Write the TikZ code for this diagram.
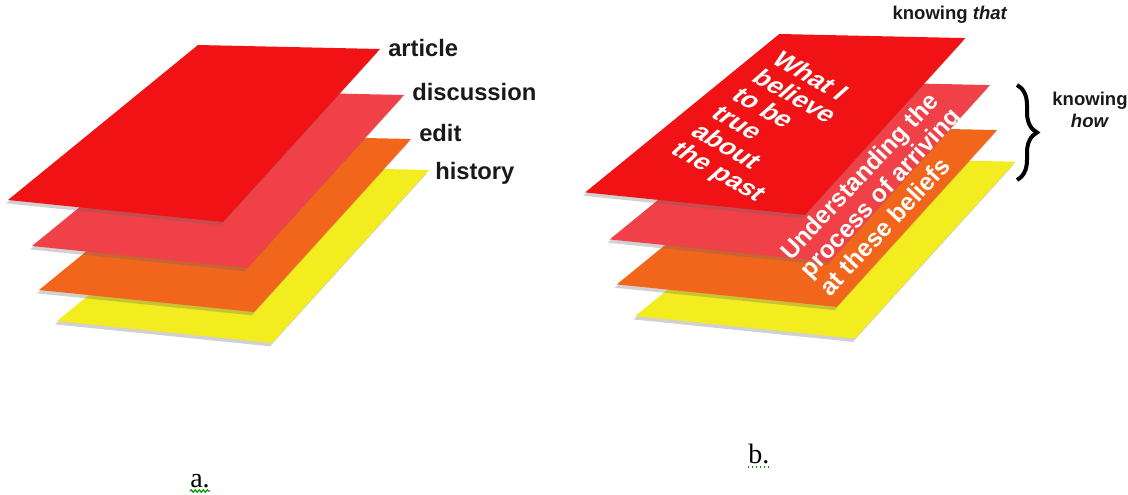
\documentclass[tikz,border=0pt]{standalone}
\usepackage{fontspec}
\setmainfont{Liberation Serif}
\newfontfamily\labelfont{Liberation Sans}
\usepackage{tikz}
\usetikzlibrary{shadows,decorations.pathreplacing,decorations.pathmorphing}

\definecolor{sheetred}{RGB}{240,18,20}
\definecolor{sheetpink}{RGB}{240,64,72}
\definecolor{sheetorange}{RGB}{242,102,28}
\definecolor{sheetyellow}{RGB}{243,236,30}

\begin{document}
\begin{tikzpicture}[
    x=0.75pt,y=-0.75pt,
    sheet/.style={draw=none,drop shadow={shadow xshift=-1.5pt,shadow yshift=-2.5pt,opacity=.3,fill=black!60}},
    layer/.style={font=\labelfont\bfseries\fontsize{17.8}{20}\selectfont,text=black!90,anchor=west,inner sep=0pt},
    know/.style={font=\labelfont\bfseries\fontsize{13.9}{17}\selectfont,text=black!90,inner sep=0pt,align=center},
    ontext/.style={font=\labelfont\bfseries\fontsize{19.5}{20.3}\selectfont,text=white,inner sep=0pt,align=left,transform shape},
    caption/.style={font=\fontsize{21}{24}\selectfont,inner sep=0pt,anchor=base west},
    spell/.style={draw=green!60!black,line width=1pt}
  ]
  \useasboundingbox (0,0) rectangle (1128,494);
  % the two stacks of sheets, a. and b.
  \foreach \dx/\dy/\sc in {0/0/1,577/-12/1.022}
    \foreach \col/\ox/\oy in {sheetyellow/49/121,sheetorange/31/90,sheetpink/24/46,sheetred/0/0}
      \fill[sheet,fill=\col,shift={(\dx,\dy)},scale=\sc,shift={(\ox,\oy)}]
        (198,45) -- (380,49) -- (223,222) -- (8,200) -- cycle;

  \node[layer] (article) at (388,48) {article};
  \node[layer] (discussion) at (412,92) {discussion};
  \node[layer] (edit) at (419,133) {edit};
  \node[layer] (history) at (435,173) {history};

  % base west sits on the last line
  \node[ontext,cm={0.866,-0.5,0.746,0.665,(0,0)},anchor=base west] (believe) at (669,152)
    {What I\\believe\\to be\\true\\about\\the past};
  \node[ontext,font=\labelfont\bfseries\fontsize{18.5}{20}\selectfont,rotate=47,anchor=base west] (arriving) at (830,298)
    {Understanding the\\process of arriving\\at these beliefs};

  \node[know] (knowthat) at (950,15) {knowing \textit{that}};
  \node[know] (knowhow) at (1090,110) {knowing\\\textit{how}};
  \coordinate (bracetop) at (1017,85);
  \coordinate (bracebot) at (1017,180);
  \draw[decorate,decoration={brace,amplitude=15pt},line width=3pt] (bracetop) -- (bracebot);

  \node[caption] (capa) at (190,487) {a.};
  \node[caption] (capb) at (748,463) {b.};
  \draw[spell,decorate,decoration={snake,amplitude=.8pt,segment length=3pt}]
    ([yshift=-3pt]capa.base west) -- ([yshift=-3pt]capa.base east);
  \draw[spell,dotted] ([yshift=-3pt]capb.base west) -- ([yshift=-3pt]capb.base east);
\end{tikzpicture}
\end{document}
